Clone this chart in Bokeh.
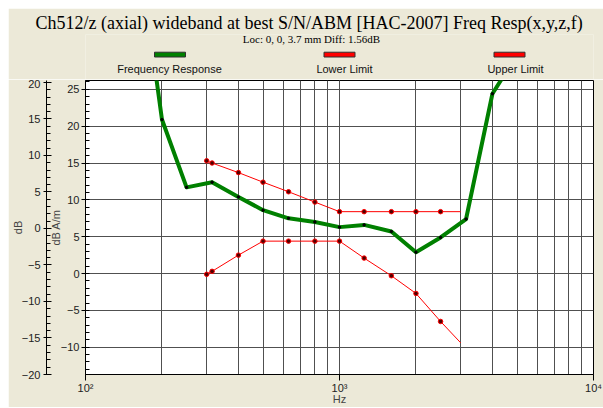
from bokeh.plotting import figure
from bokeh.models import (Range1d, LinearAxis, LogTicker, SingleIntervalTicker,
                          CustomJSTickFormatter, Spacer, ColumnDataSource, Title)
from bokeh.layouts import column, row
from bokeh.core.properties import value
from bokeh.embed import file_html
from bokeh.resources import INLINE

# ---------------- data ----------------
freq_hz = [160, 200, 250, 315, 400, 500, 630, 800, 1000, 1250, 1600, 2000, 2500, 3150, 4000, 5000]
freq_resp_db = [45.3, 20.9, 11.7, 12.4, 10.4, 8.6, 7.5, 7.0, 6.3, 6.6, 5.7, 2.9, 4.9, 7.4, 24.4, 29.7]

limit_hz = [300, 315, 400, 500, 630, 800, 1000, 1250, 1600, 2000, 2500, 3000]
upper_limit_db = [15.3, 15.0, 13.7, 12.4, 11.1, 9.7, 8.4, 8.4, 8.4, 8.4, 8.4, 8.4]
lower_limit_db = [-0.1, 0.3, 2.5, 4.4, 4.4, 4.4, 4.4, 2.1, -0.3, -2.7, -6.5, -9.4]

series_names = ["Frequency Response", "Lower Limit", "Upper Limit"]
series_colors = ["#008000", "#FF0000", "#FF0000"]
title_text = "Ch512/z (axial) wideband at best S/N/ABM [HAC-2007] Freq Resp(x,y,z,f)"
subtitle_text = "Loc: 0, 0, 3.7 mm Diff: 1.56dB"

BG = "#ECE9D8"
GRID = "#505050"
SANS = "Liberation Sans"
SERIF = "Liberation Serif"
W = 595
LEFT, RIGHT = 77, 10

# ---------------- header (title, subtitle, legend) ----------------
# header frame shares the main frame's horizontal extent; its ranges are in page pixels
hdr = figure(width=W, height=71, x_range=Range1d(85, 593), y_range=Range1d(79, 32),
             x_axis_type=None, y_axis_type=None, output_backend="svg",
             toolbar_location=None, title=None,
             min_border_left=LEFT, min_border_right=RIGHT, min_border_top=24,
             min_border_bottom=0,
             border_fill_color=BG, background_fill_color=BG, outline_line_color=None)
hdr.add_layout(Title(text=title_text, text_font=SERIF, text_font_size="18px",
                     text_font_style="normal", text_color="black",
                     align="left", offset=-50, standoff=4), "above")
hdr.text(x=[311], y=[37], text=[subtitle_text], text_font=value(SERIF),
         text_font_size="11px", text_color="black", text_align="center",
         text_baseline="middle")
leg = ColumnDataSource(dict(
    name=series_names, color=series_colors,
    cx=[169.5, 339, 509], lx=[169, 344, 515]))
hdr.rect(x="cx", y=53, width=31, height=5, source=leg, fill_color="color",
         line_color="#303030", line_width=1)
hdr.text(x="lx", y=68.5, text="name", source=leg, text_font=value(SANS),
         text_font_size="11px", text_color="#111111", text_align="center",
         text_baseline="middle")

# ---------------- main plot ----------------
p = figure(width=W, height=328, x_axis_type="log",
           x_range=Range1d(100, 10000), y_range=Range1d(-13.7, 26.2),
           output_backend="svg", toolbar_location=None, title=None,
           min_border_left=LEFT, min_border_right=RIGHT, min_border_top=1, min_border_bottom=30,
           border_fill_color=BG, background_fill_color="white",
           outline_line_color="black", outline_line_width=1)

# x axis
xa = p.xaxis[0]
xa.ticker = LogTicker(mantissas=[1], desired_num_ticks=3, num_minor_ticks=10)
xa.formatter = CustomJSTickFormatter(code="""
const e = Math.round(Math.log10(tick));
const sup = {2: '\u00b2', 3: '\u00b3', 4: '\u2074'};
return '10' + (sup[e] !== undefined ? sup[e] : e);
""")
xa.axis_label = "Hz"
xa.axis_label_text_font = SANS
xa.axis_label_text_font_size = "11px"
xa.axis_label_text_font_style = "normal"
xa.axis_label_standoff = -4
xa.major_label_text_font = SANS
xa.major_label_text_font_size = "11px"
xa.major_label_text_color = "#222222"
xa.major_label_standoff = 1
xa.major_tick_out = 6
xa.major_tick_in = 0
xa.minor_tick_line_color = None
xa.axis_line_color = "black"

p.xgrid.grid_line_color = GRID
p.xgrid.minor_grid_line_color = GRID

# inner y axis (dB A/m)
ya = p.yaxis[0]
ya.ticker = SingleIntervalTicker(interval=5, num_minor_ticks=5)
ya.axis_label = "dB A/m"
ya.axis_label_text_font = SANS
ya.axis_label_text_font_size = "11px"
ya.axis_label_text_font_style = "normal"
ya.axis_label_standoff = -4
ya.major_label_text_font = SANS
ya.major_label_text_font_size = "11px"
ya.major_label_text_color = "#222222"
ya.major_label_standoff = 2
ya.major_tick_out = 4
ya.major_tick_in = 0
ya.minor_tick_in = 4
ya.minor_tick_out = 0
ya.axis_line_color = "black"
p.ygrid.grid_line_color = GRID

# outer y axis (dB)
p.extra_y_ranges = {"outer": Range1d(-20, 20.27)}
oa = LinearAxis(y_range_name="outer",
                ticker=SingleIntervalTicker(interval=5, num_minor_ticks=5),
                axis_label="dB", axis_label_text_font=SANS,
                axis_label_text_font_size="11px", axis_label_text_font_style="normal",
                axis_label_standoff=-5,
                major_label_text_font=SANS, major_label_text_font_size="11px",
                major_label_text_color="#222222", major_label_standoff=3,
                major_tick_out=3, major_tick_in=5, minor_tick_in=4, minor_tick_out=0,
                axis_line_color="black")
p.add_layout(oa, "left")

# ---------------- series ----------------
p.line(limit_hz, upper_limit_db, line_color=series_colors[2], line_width=1)
p.scatter(limit_hz[:-1], upper_limit_db[:-1], marker="circle", size=4.5,
          fill_color="#500000", line_color=series_colors[2], line_width=1)
p.line(limit_hz, lower_limit_db, line_color=series_colors[1], line_width=1)
p.scatter(limit_hz[:-1], lower_limit_db[:-1], marker="circle", size=4.5,
          fill_color="#500000", line_color=series_colors[1], line_width=1)
p.line(freq_hz, freq_resp_db, line_color=series_colors[0], line_width=4, line_join="round")
p.scatter(freq_hz, freq_resp_db, marker="circle", size=2.5, color="black")

layout = column(Spacer(height=8), row(Spacer(width=8), column(hdr, p)))
open("out.html", "w").write(file_html(layout, INLINE))
